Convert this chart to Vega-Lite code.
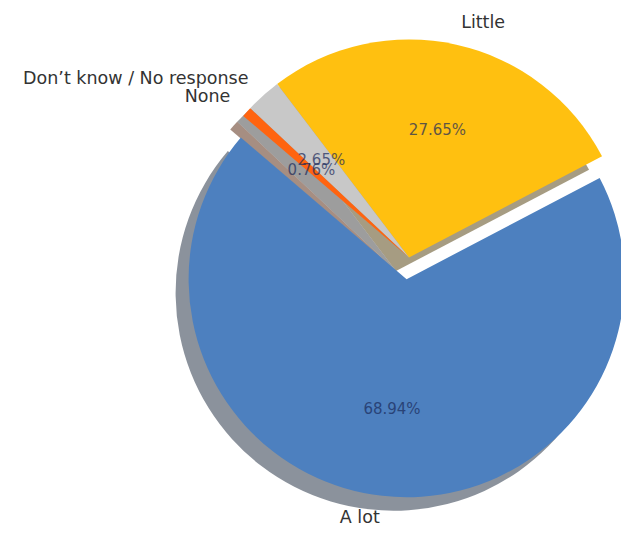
{
  "$schema": "https://vega.github.io/schema/vega-lite/v6.json",
  "width": 424,
  "height": 515,
  "autosize": {"type": "none"},
  "padding": {"left": 197, "top": 0, "right": 0, "bottom": 18},
  "background": "white",
  "config": {"view": {"stroke": null}, "text": {"font": "DejaVu Sans"}},
  "data": {
    "values": [
      {"label": "A lot", "share": 0.6894},
      {"label": "Little", "share": 0.2765},
      {"label": "Don’t know / No response", "share": 0.0265},
      {"label": "None", "share": 0.0076}
    ]
  },
  "encoding": {
    "theta": {"field": "share", "type": "quantitative", "stack": true, "scale": {"domain": [0, 1], "range": [5.4193, -0.8639]}},
    "order": {"field": "share", "type": "quantitative", "sort": "descending"},
    "detail": {"field": "label", "type": "nominal"}
  },
  "layer": [
    {
      "mark": {"type": "arc", "outerRadius": 218, "xOffset": -13, "yOffset": 13.5},
      "encoding": {
        "fill": {"condition": [
          {"test": "datum.label === 'Little'", "value": "#4d3a05"},
          {"test": "datum.label === 'None'", "value": "#4d1e05"},
          {"test": "datum.label === 'A lot'", "value": "#172639"}
        ], "value": "#3c3c3c"},
        "opacity": {"condition": {"test": "datum.label === 'A lot'", "value": 0}, "value": 0.5}
      }
    },
    {
      "mark": {"type": "arc", "outerRadius": 218, "xOffset": -15.4, "yOffset": 35.2, "fill": "#172639"},
      "encoding": {
        "opacity": {"condition": {"test": "datum.label === 'A lot'", "value": 0.5}, "value": 0}
      }
    },
    {
      "mark": {"type": "arc", "outerRadius": 218},
      "encoding": {
        "color": {"field": "label", "type": "nominal", "legend": null,
          "scale": {"domain": ["A lot", "Little", "Don’t know / No response", "None"], "range": ["#4d80bf", "#ffc010", "#c8c8c8", "#ff6410"]}},
        "opacity": {"condition": {"test": "datum.label === 'A lot'", "value": 0}, "value": 1}
      }
    },
    {
      "mark": {"type": "arc", "outerRadius": 218, "xOffset": -2.4, "yOffset": 21.7},
      "encoding": {
        "color": {"field": "label", "type": "nominal", "legend": null},
        "opacity": {"condition": {"test": "datum.label === 'A lot'", "value": 1}, "value": 0}
      }
    },
    {
      "mark": {"type": "text", "radius": 240, "align": "left", "baseline": "middle", "fontSize": 17.5, "fill": "#333333"},
      "encoding": {
        "text": {"field": "label", "type": "nominal"},
        "opacity": {"condition": {"test": "datum.label === 'Little'", "value": 1}, "value": 0}
      }
    },
    {
      "mark": {"type": "text", "radius": 240, "align": "right", "baseline": "middle", "fontSize": 17.5, "fill": "#333333"},
      "encoding": {
        "text": {"field": "label", "type": "nominal"},
        "opacity": {"condition": {"test": "datum.label !== 'Little' && datum.label !== 'A lot'", "value": 1}, "value": 0}
      }
    },
    {
      "mark": {"type": "text", "radius": 240, "align": "right", "baseline": "middle", "fontSize": 17.5, "fill": "#333333", "xOffset": -2.4, "yOffset": 21.7},
      "encoding": {
        "text": {"field": "label", "type": "nominal"},
        "opacity": {"condition": {"test": "datum.label === 'A lot'", "value": 1}, "value": 0}
      }
    },
    {
      "mark": {"type": "text", "radius": 131, "align": "center", "baseline": "middle", "fontSize": 15, "fill": "#1a2a5a"},
      "encoding": {
        "text": {"field": "share", "type": "quantitative", "format": ".2%"},
        "opacity": {"condition": {"test": "datum.label === 'A lot'", "value": 0}, "value": 0.7}
      }
    },
    {
      "mark": {"type": "text", "radius": 131, "align": "center", "baseline": "middle", "fontSize": 15, "fill": "#1a2a5a", "xOffset": -2.4, "yOffset": 21.7},
      "encoding": {
        "text": {"field": "share", "type": "quantitative", "format": ".2%"},
        "opacity": {"condition": {"test": "datum.label === 'A lot'", "value": 0.7}, "value": 0}
      }
    }
  ]
}
